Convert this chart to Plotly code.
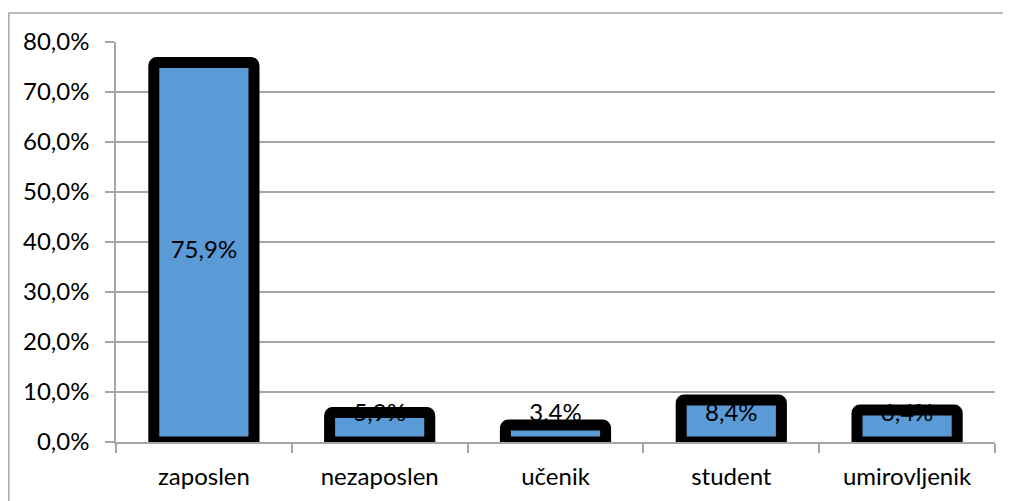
import plotly.graph_objects as go

categories = ["zaposlen", "nezaposlen", "učenik", "student", "umirovljenik"]
values = [75.9, 5.9, 3.4, 8.4, 6.4]
labels = ["75,9%", "5,9%", "3,4%", "8,4%", "6,4%"]
y_ticks = [0, 10, 20, 30, 40, 50, 60, 70, 80]
y_ticktext = ["0,0%", "10,0%", "20,0%", "30,0%", "40,0%", "50,0%", "60,0%", "70,0%", "80,0%"]

FONT = "Lato"
OFF = 8  # page body margin
W, H = 1011 - OFF, 501 - OFF
ML, MR, MT, MB = 116 - OFF, 16, 42 - OFF, 59
pw, ph = W - ML - MR, H - MT - MB

label_y = [max(v / 2, 5.5) for v in values]

fig = go.Figure()
fig.add_trace(go.Bar(
    x=categories, y=values, width=0.57,
    marker=dict(color="#5a9ad6", line=dict(color="black", width=11), cornerradius=3),
    hoverinfo="skip",
))
fig.add_trace(go.Scatter(
    x=categories, y=label_y, mode="text", text=labels,
    textfont=dict(family=FONT, size=24, color="#000000"),
    hoverinfo="skip",
))

# outer chart border
bx0 = (8 - OFF - ML) / pw + 0.001
by1 = 1 + (MT - (13 - OFF)) / ph
fig.add_shape(type="rect", xref="paper", yref="paper",
              x0=bx0, x1=1.2, y0=-0.3, y1=by1,
              line=dict(color="#a6a6a6", width=1.5), fillcolor="rgba(0,0,0,0)", layer="below")

fig.update_layout(
    width=W, height=H,
    margin=dict(l=ML, r=MR, t=MT, b=MB, pad=0),
    paper_bgcolor="white", plot_bgcolor="white",
    showlegend=False,
    font=dict(family=FONT, size=24, color="#000000"),
    xaxis=dict(
        type="category", showgrid=False, showline=True, linecolor="#a6a6a6", linewidth=1.5,
        ticks="outside", tickson="boundaries", ticklen=9, tickcolor="#a6a6a6", tickwidth=1.5,
        ticklabelstandoff=12, range=[-0.5, 4.5],
    ),
    yaxis=dict(
        range=[0, 80], tickvals=y_ticks, ticktext=y_ticktext,
        showgrid=True, gridcolor="#a6a6a6", gridwidth=1.5,
        showline=True, linecolor="#a6a6a6", linewidth=1.5,
        ticks="outside", ticklen=9, tickcolor="#a6a6a6", tickwidth=1.5,
        ticklabelstandoff=11, zeroline=False,
    ),
)

fig.write_html("out.html")
